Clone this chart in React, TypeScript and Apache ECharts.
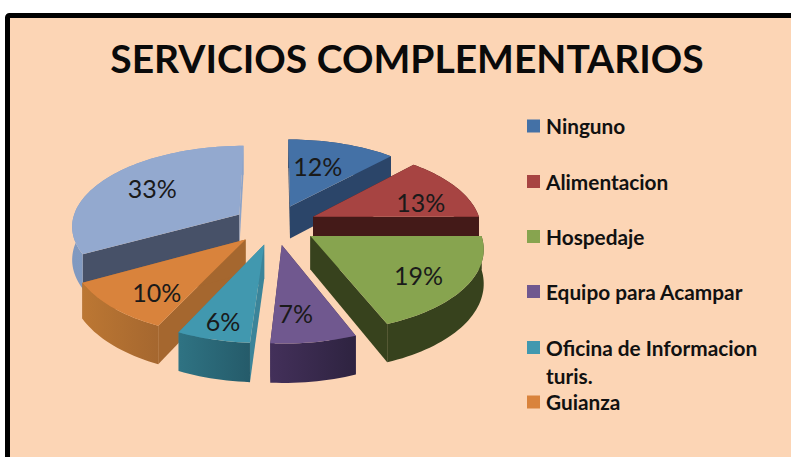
import React, { useEffect, useRef } from "react";
import * as echarts from "echarts";

const titleText = "SERVICIOS COMPLEMENTARIOS";
const categories = ["Ninguno", "Alimentacion", "Hospedaje", "Equipo para Acampar", "Oficina de Informacion turis.", "Guianza", "Otros"];
const values = [12, 13, 19, 7, 6, 10, 33];
const legendLines = [["Ninguno"], ["Alimentacion"], ["Hospedaje"], ["Equipo para Acampar"], ["Oficina de Informacion", "turis."], ["Guianza"]];
const drawOrder = [0, 1, 6, 2, 5, 4, 3];

const topColors = ["#4471A6", "#A74442", "#87A44F", "#70588F", "#4198AF", "#D9833C", "#93A9CF"];
const edgeColors = ["#2B4569", "#441A18", "#37421D", "#3F2E55", "#3B8499", "#A5672F", "#475168"];
const endEdgeColors = ["#2B4569", "#441A18", "#37421D", "#3F2E55", "#3B8499", "#A5672F", "#8CA3C8"];
const wallColors = [
  ["#2B4569", "#2B4569"], ["#441A18", "#441A18"], ["#37421D", "#37421D"], ["#43305A", "#2E2340"],
  ["#2F7383", "#255B6A"], ["#BC7733", "#A5672F"], ["#8099C0", "#8CA3C8"],
];
const legendTops = [125.5, 181, 236, 291, 347, 401.5];
const labelNudges = [[-9, 4], [9, 6], [5, 6], [-7, 5], [-8, 15], [-1, 8], [4, -1]];

const CX = 275, CY = 224.5, RX = 168, RY = 80, K = 0.13, EXPLODE = 0.25, DEPTH = 33, LABEL_R = 0.68;
const total = values.reduce((a, b) => a + b, 0);
const project = (u: number, v: number) => {
  const s = 1 / (1 - K * v);
  return [CX + RX * u * s, CY + RY * v * s, DEPTH * s];
};

function renderSlice(_: any, api: any) {
  const i = api.value(0);
  const before = values.slice(0, i).reduce((a, b) => a + b, 0);
  const a0 = (before / total) * Math.PI * 2;
  const a1 = ((before + api.value(1)) / total) * Math.PI * 2;
  const mid = (a0 + a1) / 2;
  const ox = EXPLODE * Math.sin(mid), oy = -EXPLODE * Math.cos(mid);
  const at = (a: number, r: number) => project(ox + r * Math.sin(a), oy - r * Math.cos(a));
  const arc: number[][] = [];
  const steps = Math.max(4, Math.ceil((a1 - a0) / 0.03));
  for (let k = 0; k <= steps; k++) arc.push(at(a0 + ((a1 - a0) * k) / steps, 1));
  const tip = at(0, 0);
  const low = (p: number[]) => [p[0], p[1] + p[2]];
  const flat = (p: number[]) => [p[0], p[1]];
  const face = (pts: number[][], fill: any) => ({ type: "polygon", shape: { points: pts }, style: { fill }, silent: true });
  const lab = at(mid, LABEL_R);
  const first = arc[0], last = arc[arc.length - 1];
  return {
    type: "group",
    children: [
      face([flat(tip), flat(first), low(first), low(tip)], edgeColors[i]),
      face([flat(tip), flat(last), low(last), low(tip)], endEdgeColors[i]),
      face([...arc.map(flat), ...arc.slice().reverse().map(low)],
        new echarts.graphic.LinearGradient(0, 0, 1, 0, [
          { offset: 0, color: wallColors[i][0] },
          { offset: 1, color: wallColors[i][1] },
        ])),
      face([flat(tip), ...arc.map(flat)], topColors[i]),
      {
        type: "text",
        style: {
          x: lab[0] + labelNudges[i][0], y: lab[1] + labelNudges[i][1], text: `${values[i]}%`, align: "center", verticalAlign: "middle",
          font: "25px Lato", fill: "#1A1A1A",
        },
        silent: true,
      },
    ],
  };
}

export default function App() {
  const ref = useRef<HTMLDivElement>(null);
  useEffect(() => {
    document.body.style.margin = "0";
    const chart = echarts.init(ref.current!, null, { renderer: "svg" });
    const legend: any[] = [];
    legendLines.forEach((lines, i) => {
      const y = legendTops[i];
      legend.push({ type: "rect", shape: { x: 527, y: y - 6, width: 13, height: 13 }, style: { fill: topColors[i] }, silent: true });
      lines.forEach((t, j) => legend.push({
        type: "text",
        style: { x: 546, y: y + j * 28, text: t, font: "bold 20.8px Lato", fill: "#111111", verticalAlign: "middle", align: "left" },
        silent: true,
      }));
    });
    chart.setOption({
      animation: false,
      backgroundColor: "#FFFFFF",
      title: {
        text: titleText, left: 402, top: 33, textAlign: "center",
        textStyle: { fontFamily: "Lato", fontWeight: "bold", fontSize: 39, color: "#0A0A0A" },
      },
      graphic: [
        { type: "rect", z: -10, shape: { x: 7.5, y: 15.5, width: 900, height: 600, r: 2 }, style: { fill: "#FCD5B5", stroke: "#000000", lineWidth: 5 }, silent: true },
        ...legend.map((e) => ({ ...e, z: 5 })),
      ],
      series: [{
        type: "custom",
        coordinateSystem: "none",
        renderItem: renderSlice,
        data: drawOrder.map((i) => ({ name: categories[i], value: [i, values[i]] })),
        z: 2,
      }],
    });
    return () => chart.dispose();
  }, []);
  return <div ref={ref} style={{ width: 791, height: 457 }} />;
}
